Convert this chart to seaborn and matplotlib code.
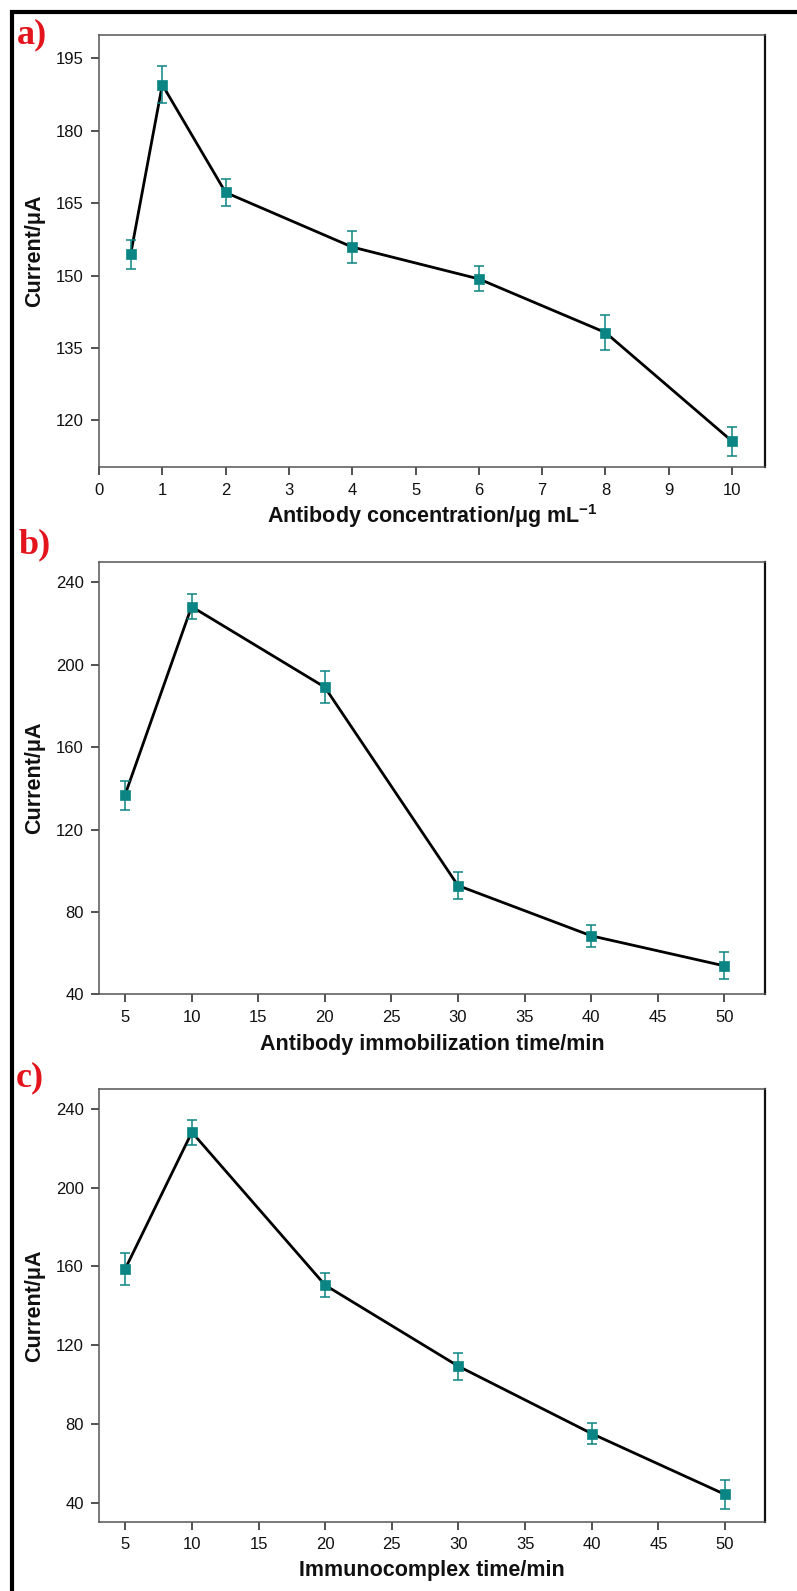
import matplotlib
matplotlib.use("Agg")
import matplotlib.pyplot as plt
from matplotlib.lines import Line2D
import seaborn as sns
import numpy as np
import pandas as pd

# ---------------- data ----------------
conc_x = [0.5, 1, 2, 4, 6, 8, 10]
conc_y = [154.4, 189.5, 167.2, 155.9, 149.3, 138.2, 115.7]
conc_err = [3.0, 3.8, 2.8, 3.4, 2.6, 3.6, 3.0]

immob_x = [5, 10, 20, 30, 40, 50]
immob_y = [136.7, 228.2, 189.1, 92.8, 68.4, 53.8]
immob_err = [7.0, 6.0, 7.7, 6.5, 5.4, 6.6]

cplx_x = [5, 10, 20, 30, 40, 50]
cplx_y = [158.8, 228.2, 150.5, 109.3, 75.1, 44.2]
cplx_err = [8.0, 6.4, 6.0, 6.8, 5.3, 7.2]

panel_letters = ["a)", "b)", "c)"]
xlabels = [r"Antibody concentration/μg mL$^{-1}$",
           "Antibody immobilization time/min",
           "Immunocomplex time/min"]
ylabel = "Current/μA"
yticks_a = [120, 135, 150, 165, 180, 195]
yticks_bc = [40, 80, 120, 160, 200, 240]
xticks_a = list(range(0, 11))
xticks_bc = list(range(5, 51, 5))

# ---------------- style ----------------
sns.set_theme(style="white")
plt.rcParams["font.family"] = ["Liberation Sans", "DejaVu Sans"]
plt.rcParams["mathtext.default"] = "regular"

W, H = 797, 1591
fig = plt.figure(figsize=(W / 100, H / 100), dpi=100)
fig.patch.set_facecolor("white")

TEAL = "#0b8583"

def px_axes(top, bottom, left=99, right=765):
    return [left / W, 1 - bottom / H, (right - left) / W, (bottom - top) / H]

panels = [
    dict(x=conc_x, y=conc_y, e=conc_err, pos=px_axes(35, 467.3),
         xlim=(0, 10.52), ylim=(110.3, 199.8), xt=xticks_a, yt=yticks_a,
         xlab_y=-0.08, letter_xy=(17, 18)),
    dict(x=immob_x, y=immob_y, e=immob_err, pos=px_axes(561.7, 994.3),
         xlim=(3.05, 53.05), ylim=(40, 250), xt=xticks_bc, yt=yticks_bc,
         xlab_y=-0.092, letter_xy=(19, 528)),
    dict(x=cplx_x, y=cplx_y, e=cplx_err, pos=px_axes(1089.3, 1522),
         xlim=(3.03, 53.0), ylim=(30.2, 250), xt=xticks_bc, yt=yticks_bc,
         xlab_y=-0.087, letter_xy=(16, 1061)),
]

for i, p in enumerate(panels):
    ax = fig.add_axes(p["pos"])
    df = pd.DataFrame({"x": p["x"], "y": p["y"], "e": p["e"]})
    sns.lineplot(data=df, x="x", y="y", ax=ax, color="black", lw=2.0,
                 zorder=2, sort=False)
    ax.errorbar(df["x"], df["y"], yerr=df["e"], fmt="none", ecolor=TEAL,
                elinewidth=1.1, capsize=3.5, capthick=1.1, zorder=3)
    sns.scatterplot(data=df, x="x", y="y", ax=ax, marker="s", s=46,
                    color=TEAL, edgecolor=TEAL, linewidth=0.5, zorder=4)

    ax.set_xlim(*p["xlim"])
    ax.set_ylim(*p["ylim"])
    ax.set_xticks(p["xt"])
    ax.set_yticks(p["yt"])
    ax.set_xticklabels([str(v) for v in p["xt"]], fontsize=12)
    ax.set_yticklabels([str(v) for v in p["yt"]], fontsize=12)
    ax.tick_params(axis="both", which="major", direction="out", length=6,
                   width=1.1, color="#222222", labelcolor="#111111",
                   bottom=True, left=True)
    ax.tick_params(axis="x", pad=5)
    ax.tick_params(axis="y", pad=5)

    for side in ["left", "bottom", "top"]:
        ax.spines[side].set_color("#555555")
        ax.spines[side].set_linewidth(1.1)
        ax.spines[side].set_visible(True)
    ax.spines["right"].set_color("#111111")
    ax.spines["right"].set_linewidth(1.6)
    ax.spines["right"].set_visible(True)
    ax.grid(False)
    ax.set_facecolor("white")

    ax.set_xlabel(xlabels[i], fontsize=15.5, fontweight="bold", color="#111111")
    ax.set_ylabel(ylabel, fontsize=15.5, fontweight="bold", color="#111111")
    ax.xaxis.set_label_coords(0.5, p["xlab_y"])
    ax.yaxis.set_label_coords((45 - 99) / 666, 0.5)

    lx, ly = p["letter_xy"]
    fig.text(lx / W, 1 - ly / H, panel_letters[i], color="#e3141c",
             fontsize=26, fontweight="bold", family=["Liberation Serif"],
             ha="left", va="top")

# thick black frame on top and left (cropped original)
fig.add_artist(Line2D([9.5 / W, 1.0], [1 - 12 / H, 1 - 12 / H],
                      transform=fig.transFigure, color="black", lw=3.0,
                      solid_capstyle="butt"))
fig.add_artist(Line2D([11.5 / W, 11.5 / W], [0.0, 1 - 10 / H],
                      transform=fig.transFigure, color="black", lw=3.0,
                      solid_capstyle="butt"))

fig.savefig("out.png", dpi=100, facecolor="white")
